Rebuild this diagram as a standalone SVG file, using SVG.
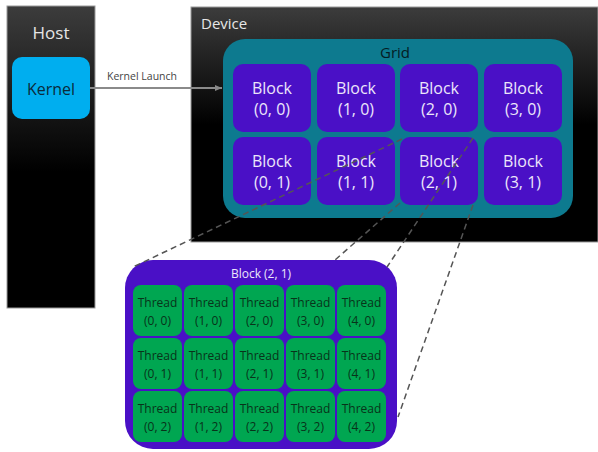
<svg xmlns="http://www.w3.org/2000/svg" width="598" height="452" viewBox="0 0 598 452">
<defs>
<linearGradient id="hostG" x1="0" y1="0" x2="0" y2="1">
<stop offset="0" stop-color="#3c3c3c"/><stop offset="0.55" stop-color="#000"/><stop offset="1" stop-color="#000"/>
</linearGradient>
<linearGradient id="devG" x1="0" y1="0" x2="0" y2="1">
<stop offset="0" stop-color="#3c3c3c"/><stop offset="0.5" stop-color="#000"/><stop offset="1" stop-color="#000"/>
</linearGradient>
<marker id="arr" markerWidth="8" markerHeight="8" refX="7" refY="4" orient="auto" markerUnits="userSpaceOnUse">
<path d="M0,1 L7,4 L0,7 z" fill="#888"/>
</marker>
<style>
.panel{stroke:#9a9a9a;stroke-width:1}
.lbl{font-family:"Open Sans","Liberation Sans",sans-serif;fill:#e6e6e6}
.blk rect{fill:#4a10c6}
.blk text{font-family:"Open Sans","Liberation Sans",sans-serif;font-size:16px;fill:#ece6fa;text-anchor:middle}
.thr rect{fill:#00a651}
.thr text{font-family:"Open Sans","Liberation Sans",sans-serif;font-size:12px;fill:#08331a;text-anchor:middle}
.dash{stroke:#555;stroke-width:1.5;stroke-dasharray:6 4;fill:none}
</style>
</defs>
<g id="host">
<rect class="panel" x="7" y="6" width="88" height="302" fill="url(#hostG)"/>
<text class="lbl" x="51" y="39" font-size="17" text-anchor="middle">Host</text>
</g>
<g id="device">
<rect class="panel" x="191" y="7" width="407" height="235" fill="url(#devG)"/>
<text class="lbl" x="201" y="29" font-size="15">Device</text>
</g>
<g id="kernel">
<rect x="12" y="57" width="78" height="62" rx="10" fill="#00aeef"/>
<text x="51" y="95" font-family="Open Sans, Liberation Sans, sans-serif" font-size="16" fill="#0b2a3a" text-anchor="middle">Kernel</text>
</g>
<g id="grid">
<rect x="223" y="39" width="350" height="179" rx="22" fill="#0d7a8f"/>
<text x="395" y="58" font-family="Open Sans, Liberation Sans, sans-serif" font-size="15" fill="#041c24" text-anchor="middle">Grid</text>
</g>
<g id="block-0-0" class="blk"><rect x="233" y="64" width="78" height="68" rx="10"/><text x="272" y="94">Block</text><text x="272" y="115">(0, 0)</text></g>
<g id="block-1-0" class="blk"><rect x="317" y="64" width="78" height="68" rx="10"/><text x="356" y="94">Block</text><text x="356" y="115">(1, 0)</text></g>
<g id="block-2-0" class="blk"><rect x="400" y="64" width="78" height="68" rx="10"/><text x="439" y="94">Block</text><text x="439" y="115">(2, 0)</text></g>
<g id="block-3-0" class="blk"><rect x="484" y="64" width="78" height="68" rx="10"/><text x="523" y="94">Block</text><text x="523" y="115">(3, 0)</text></g>
<g id="block-0-1" class="blk"><rect x="233" y="137" width="78" height="68" rx="10"/><text x="272" y="167">Block</text><text x="272" y="188">(0, 1)</text></g>
<g id="block-1-1" class="blk"><rect x="317" y="137" width="78" height="68" rx="10"/><text x="356" y="167">Block</text><text x="356" y="188">(1, 1)</text></g>
<g id="block-2-1" class="blk"><rect x="400" y="137" width="78" height="68" rx="10"/><text x="439" y="167">Block</text><text x="439" y="188">(2, 1)</text></g>
<g id="block-3-1" class="blk"><rect x="484" y="137" width="78" height="68" rx="10"/><text x="523" y="167">Block</text><text x="523" y="188">(3, 1)</text></g>
<g id="block-detail">
<rect x="125" y="260" width="272" height="189" rx="28" fill="#4a10c6"/>
<text x="261" y="278" font-family="Open Sans, Liberation Sans, sans-serif" font-size="12" fill="#ece6fa" text-anchor="middle">Block (2, 1)</text>
</g>
<g class="thr">
<g id="thread-0-0"><rect x="133" y="285" width="49" height="51" rx="8"/><text x="157.5" y="307">Thread</text><text x="157.5" y="325">(0, 0)</text></g>
<g id="thread-1-0"><rect x="184" y="285" width="49" height="51" rx="8"/><text x="208.5" y="307">Thread</text><text x="208.5" y="325">(1, 0)</text></g>
<g id="thread-2-0"><rect x="235" y="285" width="49" height="51" rx="8"/><text x="259.5" y="307">Thread</text><text x="259.5" y="325">(2, 0)</text></g>
<g id="thread-3-0"><rect x="286" y="285" width="49" height="51" rx="8"/><text x="310.5" y="307">Thread</text><text x="310.5" y="325">(3, 0)</text></g>
<g id="thread-4-0"><rect x="337" y="285" width="49" height="51" rx="8"/><text x="361.5" y="307">Thread</text><text x="361.5" y="325">(4, 0)</text></g>
<g id="thread-0-1"><rect x="133" y="338" width="49" height="51" rx="8"/><text x="157.5" y="360">Thread</text><text x="157.5" y="378">(0, 1)</text></g>
<g id="thread-1-1"><rect x="184" y="338" width="49" height="51" rx="8"/><text x="208.5" y="360">Thread</text><text x="208.5" y="378">(1, 1)</text></g>
<g id="thread-2-1"><rect x="235" y="338" width="49" height="51" rx="8"/><text x="259.5" y="360">Thread</text><text x="259.5" y="378">(2, 1)</text></g>
<g id="thread-3-1"><rect x="286" y="338" width="49" height="51" rx="8"/><text x="310.5" y="360">Thread</text><text x="310.5" y="378">(3, 1)</text></g>
<g id="thread-4-1"><rect x="337" y="338" width="49" height="51" rx="8"/><text x="361.5" y="360">Thread</text><text x="361.5" y="378">(4, 1)</text></g>
<g id="thread-0-2"><rect x="133" y="391" width="49" height="51" rx="8"/><text x="157.5" y="413">Thread</text><text x="157.5" y="431">(0, 2)</text></g>
<g id="thread-1-2"><rect x="184" y="391" width="49" height="51" rx="8"/><text x="208.5" y="413">Thread</text><text x="208.5" y="431">(1, 2)</text></g>
<g id="thread-2-2"><rect x="235" y="391" width="49" height="51" rx="8"/><text x="259.5" y="413">Thread</text><text x="259.5" y="431">(2, 2)</text></g>
<g id="thread-3-2"><rect x="286" y="391" width="49" height="51" rx="8"/><text x="310.5" y="413">Thread</text><text x="310.5" y="431">(3, 2)</text></g>
<g id="thread-4-2"><rect x="337" y="391" width="49" height="51" rx="8"/><text x="361.5" y="413">Thread</text><text x="361.5" y="431">(4, 2)</text></g>
</g>
<g id="connectors">
<line x1="90" y1="88" x2="222" y2="88" stroke="#8a8a8a" stroke-width="2" marker-end="url(#arr)"/>
<text x="142" y="80" font-family="Open Sans, Liberation Sans, sans-serif" font-size="10.5" fill="#444" text-anchor="middle">Kernel Launch</text>
<line class="dash" x1="402" y1="139" x2="133" y2="267"/>
<line class="dash" x1="400" y1="203" x2="335" y2="260"/>
<line class="dash" x1="473" y1="138" x2="387" y2="267"/>
<line class="dash" x1="473" y1="205" x2="398" y2="417"/>
</g>
</svg>
